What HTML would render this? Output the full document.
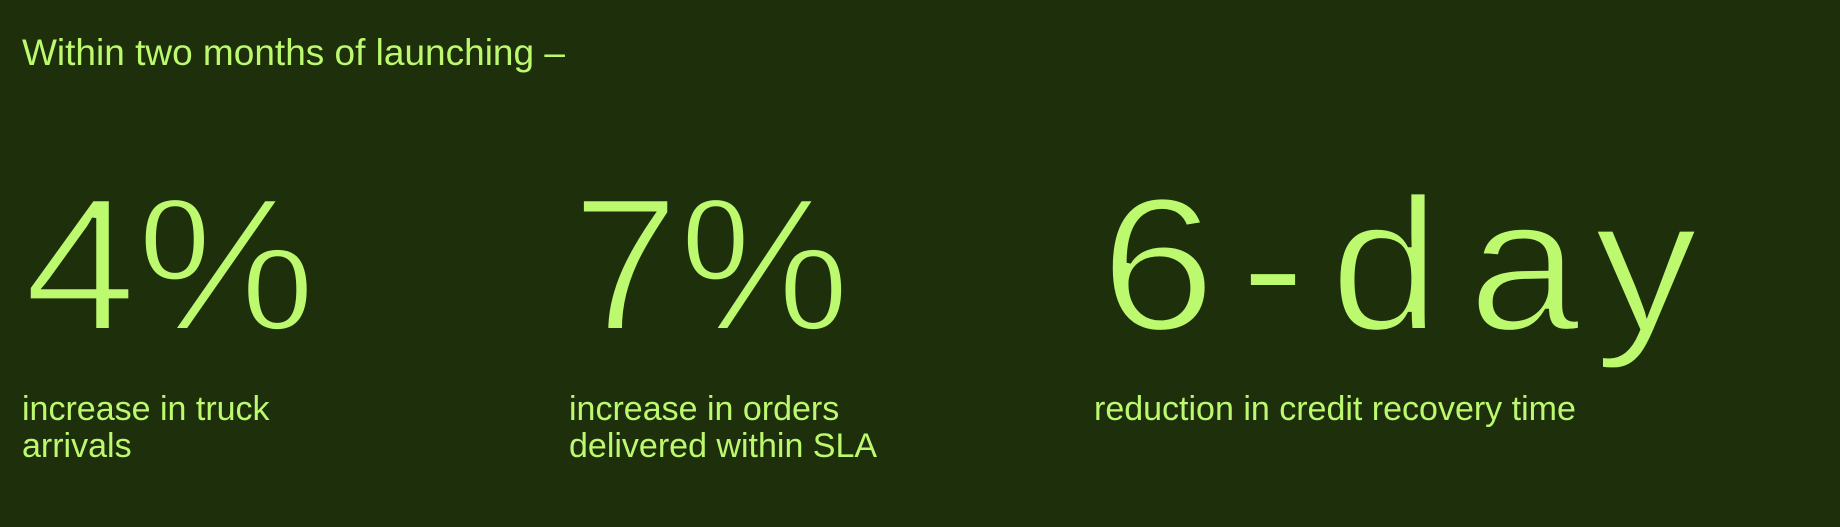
<!DOCTYPE html>
<html><head><meta charset="utf-8"><style>
html,body{margin:0;padding:0;background:#1e300b;}
svg{display:block}
text{font-family:"Liberation Sans",sans-serif;fill:#bcf96f}
.big{font-size:190px;stroke:#1e300b;stroke-width:4px;paint-order:normal}
.lab{font-size:34px}
</style></head><body>
<svg width="1840" height="527" viewBox="0 0 1840 527" xmlns="http://www.w3.org/2000/svg">
<rect width="1840" height="527" fill="#1e300b"/>
<text x="22" y="65" class="lab" style="font-size:37px">Within two months of launching –</text>
<text x="24" y="330" class="big" textLength="292" lengthAdjust="spacingAndGlyphs">4%</text>
<text x="572" y="330" class="big" textLength="278" lengthAdjust="spacingAndGlyphs">7%</text>
<text x="1100" y="330" class="big" textLength="116" lengthAdjust="spacingAndGlyphs">6</text>
<text x="1240" y="330" class="big" textLength="66" lengthAdjust="spacingAndGlyphs">-</text>
<text x="1330" y="330" class="big" textLength="110" lengthAdjust="spacingAndGlyphs">d</text>
<text x="1468" y="330" class="big" textLength="112" lengthAdjust="spacingAndGlyphs">a</text>
<text x="1594" y="330" class="big" textLength="104" lengthAdjust="spacingAndGlyphs">y</text>
<text x="22" y="420" class="lab">increase in truck</text>
<text x="22" y="457" class="lab">arrivals</text>
<text x="569" y="420" class="lab">increase in orders</text>
<text x="569" y="457" class="lab">delivered within SLA</text>
<text x="1094" y="420" class="lab">reduction in credit recovery time</text>
</svg>
</body></html>
